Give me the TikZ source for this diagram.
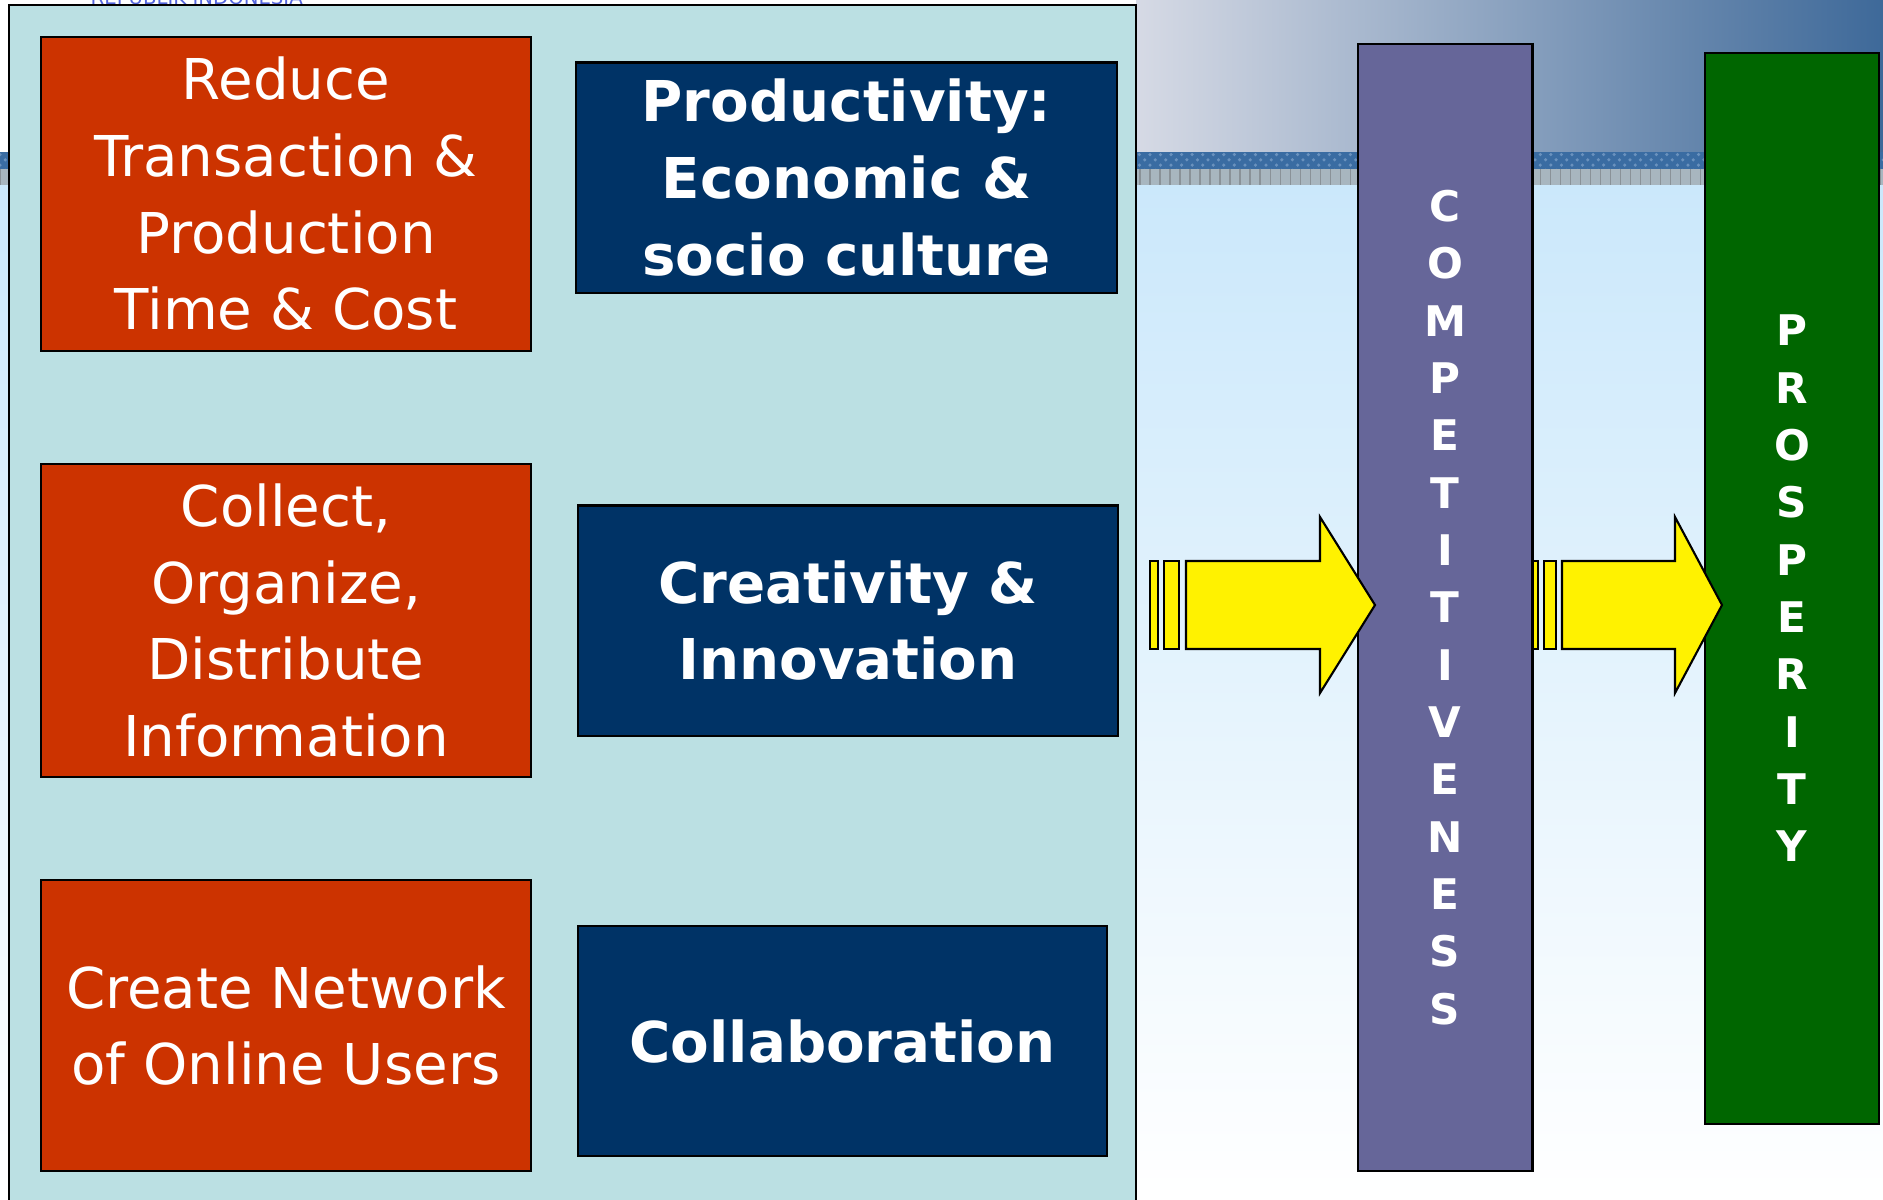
\documentclass[tikz,border=0pt]{standalone}
\usepackage{fontspec}
\setmainfont{DejaVu Sans}
\usetikzlibrary{positioning}
\usetikzlibrary{calc}
\usetikzlibrary{patterns}
\definecolor{panelbg}{HTML}{BBE0E3}
\definecolor{actred}{HTML}{CC3300}
\definecolor{goalblue}{HTML}{003366}
\definecolor{compviolet}{HTML}{666699}
\definecolor{prospgreen}{HTML}{006600}
\definecolor{skytop}{HTML}{CBE8FB}
\definecolor{headleft}{HTML}{D6DAE5}
\definecolor{headright}{HTML}{3E6999}
\definecolor{bandblue}{HTML}{3A6CA2}
\definecolor{banddots}{HTML}{6A92BE}
\definecolor{bandgray}{HTML}{A8B6BF}
\definecolor{bandline}{HTML}{8A9298}
\definecolor{logoblue}{HTML}{5566DD}
\tikzstyle{redbox}=[draw=black,line width=0.6pt,fill=actred,text=white,align=center,inner sep=0pt,minimum width=4.9cm,font=\fontsize{16}{21.8}\selectfont]
\tikzstyle{bluebox}=[draw=black,line width=0.6pt,fill=goalblue,text=white,align=center,inner sep=0pt,minimum height=2.3cm,font=\fontsize{16}{21.8}\selectfont\bfseries]
\tikzstyle{bar}=[draw=black,line width=0.6pt,text=white,align=center,inner sep=0pt,minimum width=1.74cm,font=\fontsize{12}{16.3}\selectfont\bfseries]
\tikzstyle{blockarrow}=[draw=black,fill=yellow,line width=0.6pt,line join=miter]

\begin{document}
\begin{tikzpicture}[x=0.01cm,y=-0.01cm]
    \useasboundingbox (0,0) rectangle (1883,1199);
    \clip (0,0) rectangle (1883,1199);

    % First we draw the slide background
    \fill[white] (0,0) rectangle (1136,152);
    \shade[left color=headleft,right color=headright] (1136,0) rectangle (1883,152);
    \fill[bandblue] (0,152) rectangle (1883,169);
    \fill[pattern=crosshatch dots,pattern color=banddots] (0,152) rectangle (1883,169);
    \fill[bandgray] (0,169) rectangle (1883,185);
    \foreach \x in {0,10,...,1883}
        \draw[bandline,line width=0.3pt] (\x,169) -- (\x,185);
    \shade[top color=skytop,bottom color=white] (0,185) rectangle (1883,1199);
    \node[anchor=base west,text=logoblue,inner sep=0pt,font=\fontsize{5.6}{6}\selectfont] (logo) at (90,4) {REPUBLIK INDONESIA};

    % the panel that holds the six boxes
    \draw[fill=panelbg,line width=0.6pt] (9,5) rectangle (1136,1210);

    % red boxes on the left
    \foreach \pos/\name/\boxht/\label in {{(286,194)/reduce/3.14/{Reduce\\Transaction \&\\Production\\Time \& Cost}},
        {(286,620.5)/collect/3.13/{Collect,\\Organize,\\Distribute\\Information}},
        {(286,1025.5)/network/2.91/{Create Network\\of Online Users}}}
        \node[redbox,minimum height=\boxht cm] (\name) at \pos {\label};

    % blue boxes on the right
    \foreach \pos/\name/\boxwd/\label in {{(846.5,177.5)/productivity/5.41/{Productivity:\\Economic \&\\socio culture}},
        {(848,620.5)/creativity/5.40/{Creativity \&\\Innovation}},
        {(842.5,1041)/collaboration/5.29/{Collaboration}}}
        \node[bluebox,minimum width=\boxwd cm] (\name) at \pos {\label};

    % the two tall bars
    \node[bar,fill=compviolet,minimum height=11.27cm] (comp) at (1445,607.5)
        {C\\O\\M\\P\\E\\T\\I\\T\\I\\V\\E\\N\\E\\S\\S};
    \node[bar,fill=prospgreen,minimum height=10.71cm] (prosp) at (1792,588.5)
        {P\\R\\O\\S\\P\\E\\R\\I\\T\\Y};

    % striped block arrows
    \draw[blockarrow] (1150,561) rectangle (1158,649);
    \draw[blockarrow] (1164,561) rectangle (1179,649);
    \draw[blockarrow] (1186,561) -- (1320,561) -- (1320,517) -- (1375,605)
        -- (1320,693) -- (1320,649) -- (1186,649) -- cycle;
    \draw[blockarrow] (1532,561) rectangle (1538,649);
    \draw[blockarrow] (1544,561) rectangle (1556,649);
    \draw[blockarrow] (1562,561) -- (1675,561) -- (1675,517) -- (1722,605)
        -- (1675,693) -- (1675,649) -- (1562,649) -- cycle;
    \draw[line width=0.6pt] (comp.north east) -- (comp.south east);
\end{tikzpicture}
\end{document}
